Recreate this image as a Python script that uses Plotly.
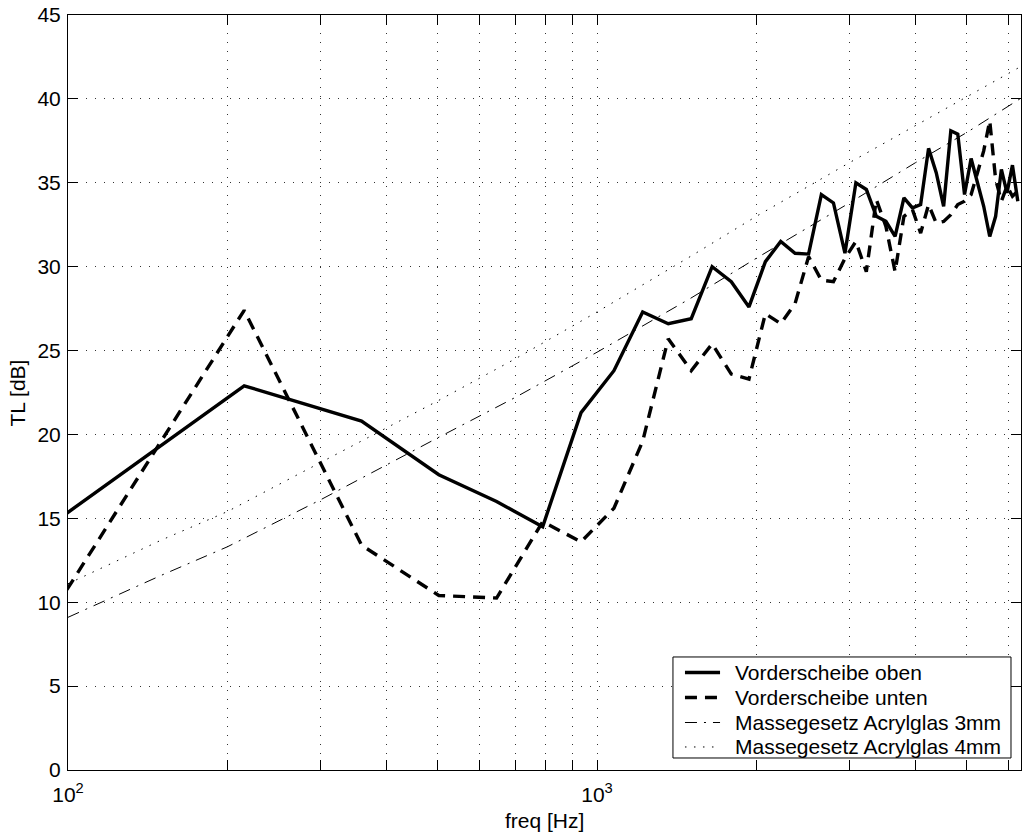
import plotly.graph_objects as go

# frequency bins [Hz]
freq = [71.8, 215.3, 358.8, 502.3, 645.8, 789.3, 932.8, 1076.3, 1219.8, 1363.3,
        1506.8, 1650.3, 1793.8, 1937.3, 2080.8, 2224.3, 2367.8, 2511.3, 2654.8, 2798.3,
        2941.8, 3085.3, 3228.8, 3372.3, 3515.8, 3659.3, 3802.8, 3946.3, 4089.8, 4233.3,
        4376.8, 4520.3, 4663.8, 4807.3, 4950.8, 5094.3, 5237.8, 5381.3, 5524.8, 5668.3,
        5811.8, 5955.3, 6098.8, 6242.3]

tl_oben = [12.1, 22.9, 20.8, 17.6, 16.0, 14.5, 21.3, 23.8, 27.3, 26.6,
           26.9, 30.0, 29.1, 27.6, 30.3, 31.5, 30.8, 30.75, 34.3, 33.8,
           30.8, 35.0, 34.6, 33.0, 32.7, 31.8, 34.1, 33.5, 33.7, 37.05,
           35.6, 33.6, 38.1, 37.9, 34.3, 36.45, 35.0, 33.6, 31.8, 33.0,
           35.8, 34.4, 36.05, 33.9]

tl_unten = [3.7, 27.4, 13.4, 10.4, 10.25, 14.8, 13.6, 15.6, 19.6, 25.7,
            23.8, 25.4, 23.6, 23.3, 27.2, 26.6, 27.8, 30.6, 29.2, 29.1,
            30.5, 31.5, 29.7, 34.0, 32.4, 29.7, 33.0, 33.4, 32.0, 33.7,
            32.6, 32.7, 33.1, 33.7, 33.9, 34.3, 35.6, 36.9, 38.7, 35.2,
            33.9, 34.8, 34.2, 34.5]

# mass law curves
freq_ml = [100, 150, 200, 300, 500, 700, 1000, 1500, 2000, 3000, 4000, 5000, 6300]
ml_3mm = [9.1, 11.6, 13.3, 16.1, 19.8, 22.2, 24.9, 28.1, 30.5, 33.8, 36.2, 38.0, 40.0]
ml_4mm = [11.1, 13.7, 15.4, 18.3, 22.0, 24.5, 27.3, 30.6, 33.0, 36.2, 38.4, 40.1, 41.9]

series_names = ["Vorderscheibe oben", "Vorderscheibe unten",
                "Massegesetz Acrylglas 3mm", "Massegesetz Acrylglas 4mm"]

x_tickvals = [100, 200, 300, 400, 500, 600, 700, 800, 900,
              1000, 2000, 3000, 4000, 5000, 6000]
x_ticktext = ["10<sup>2</sup>", "", "", "", "", "", "", "", "",
              "10<sup>3</sup>", "", "", "", "", ""]
y_tickvals = [0, 5, 10, 15, 20, 25, 30, 35, 40, 45]

FONT = "Liberation Sans, Arial, Helvetica, sans-serif"
FS = 21

styles = [
    dict(color="black", width=3.4),
    dict(color="black", width=3.4, dash="12px,8px"),
    dict(color="black", width=1, dash="12px,7px,2px,7px"),
    dict(color="black", width=1, dash="1.5px,7.5px"),
]

fig = go.Figure()
fig.add_trace(go.Scatter(x=freq, y=tl_oben, mode="lines", name=series_names[0],
                         line=styles[0]))
fig.add_trace(go.Scatter(x=freq, y=tl_unten, mode="lines", name=series_names[1],
                         line=styles[1]))
fig.add_trace(go.Scatter(x=freq_ml, y=ml_3mm, mode="lines", name=series_names[2],
                         line=styles[2]))
fig.add_trace(go.Scatter(x=freq_ml, y=ml_4mm, mode="lines", name=series_names[3],
                         line=styles[3]))

axis_common = dict(
    showline=True, linecolor="black", linewidth=1, mirror="ticks",
    ticks="inside", ticklen=10, tickcolor="black", tickwidth=1,
    showgrid=True, gridcolor="#333333", gridwidth=1, griddash="1px,8px",
    zeroline=False, tickfont=dict(family=FONT, size=FS, color="black"),
)

fig.update_xaxes(type="log", range=[2, 3.8014], tickvals=x_tickvals, ticktext=x_ticktext,
                 ticklabelstandoff=6, **axis_common)
fig.update_yaxes(range=[0, 45], tickvals=y_tickvals, ticklabelstandoff=2, **axis_common)

# legend box (MATLAB style), positioned in paper coordinates
lx0, lx1, ly0, ly1 = 0.6348, 0.9895, 0.0159, 0.1497
row_y = [0.1291, 0.0960, 0.0629, 0.0305]
sx0, sx1, tx = 0.6474, 0.6842, 0.6978

shapes = [dict(type="rect", xref="paper", yref="paper", x0=lx0, x1=lx1, y0=ly0, y1=ly1,
               line=dict(color="black", width=1), fillcolor="white", layer="above")]
annotations = []
for name, st, ry in zip(series_names, styles, row_y):
    shapes.append(dict(type="line", xref="paper", yref="paper", x0=sx0, x1=sx1, y0=ry, y1=ry,
                       line=st, layer="above"))
    annotations.append(dict(text=name, xref="paper", yref="paper", x=tx, y=ry,
                            xanchor="left", yanchor="middle", showarrow=False,
                            font=dict(family=FONT, size=FS, color="black")))

annotations += [
    dict(text="freq [Hz]", xref="paper", yref="paper", x=0.5, y=-0.0675,
         xanchor="center", yanchor="middle", showarrow=False,
         font=dict(family=FONT, size=FS, color="black")),
    dict(text="TL [dB]", xref="paper", yref="paper", x=-0.0525, y=0.5,
         xanchor="center", yanchor="middle", showarrow=False, textangle=-90,
         font=dict(family=FONT, size=FS, color="black")),
]

fig.update_layout(
    width=1022, height=835,
    margin=dict(l=68, r=1, t=15, b=65),
    paper_bgcolor="white", plot_bgcolor="white",
    font=dict(family=FONT, size=FS, color="black"),
    showlegend=False,
    shapes=shapes,
    annotations=annotations,
)

fig.write_html("out.html")
